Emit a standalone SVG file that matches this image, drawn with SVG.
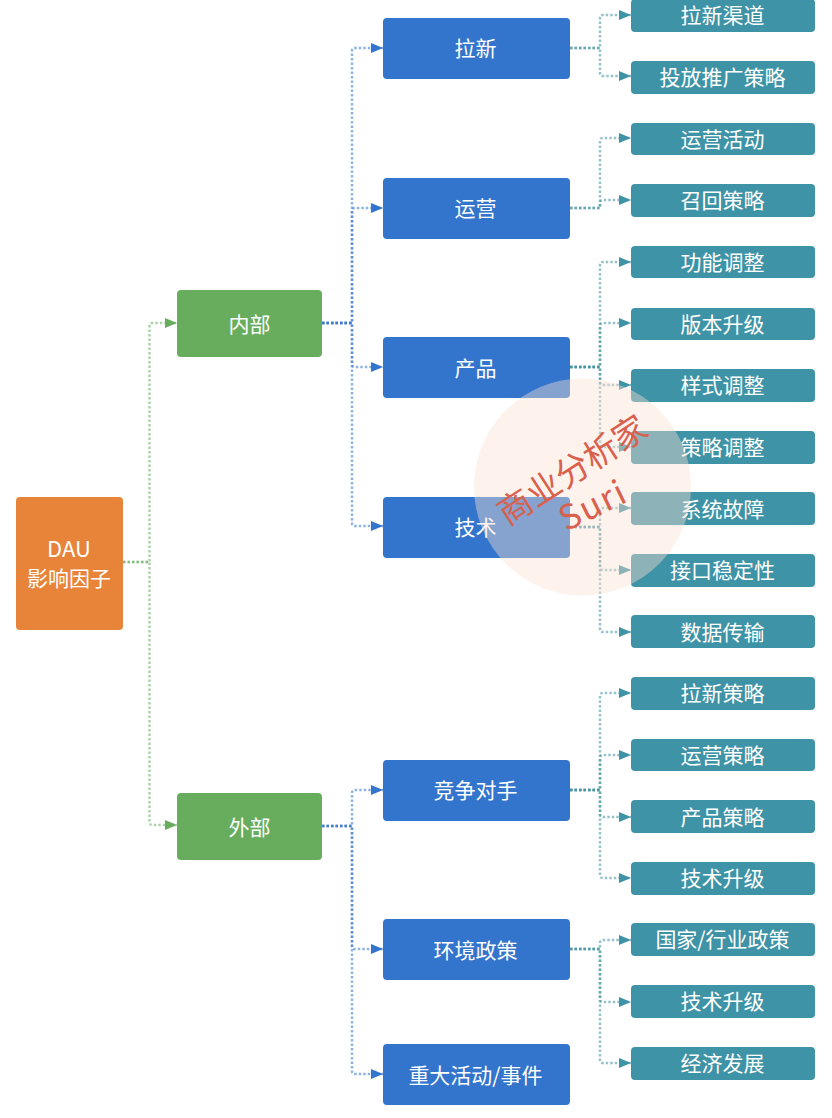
<svg xmlns="http://www.w3.org/2000/svg" width="832" height="1118" viewBox="0 0 832 1118">
<style>
text{font-family:"Noto Sans CJK SC","Noto Sans",sans-serif;font-size:21px;fill:#fff;text-anchor:middle;dominant-baseline:central}
.c{fill:none;stroke-width:2.500;stroke-dasharray:2.500 2;stroke-opacity:.55}
.g{stroke:#68AD5E}.b{stroke:#3375CC}.t{stroke:#3F8F9F}
.or{fill:#E8833A}.gr{fill:#68AD5E}.bl{fill:#3375CC}.te{fill:#3F93A6}
.wm{fill:#D9604C;font-size:34px}
</style>
<defs>
<marker id="ag" markerUnits="userSpaceOnUse" markerWidth="12" markerHeight="10" refX="12" refY="5" orient="auto"><path d="M0 0L12 5L0 10Z" fill="#68AD5E"/></marker>
<marker id="ab" markerUnits="userSpaceOnUse" markerWidth="12" markerHeight="10" refX="12" refY="5" orient="auto"><path d="M0 0L12 5L0 10Z" fill="#3375CC"/></marker>
<marker id="at" markerUnits="userSpaceOnUse" markerWidth="12" markerHeight="10" refX="12" refY="5" orient="auto"><path d="M0 0L12 5L0 10Z" fill="#3F93A6"/></marker>
</defs>
<rect width="832" height="1118" fill="#fff"/>
<g id="connectors">
<path class="c g" marker-end="url(#ag)" d="M123 562H149.500V326Q149.500 323 152.500 323H177"/>
<path class="c g" marker-end="url(#ag)" d="M123 562H149.500V822Q149.500 825 152.500 825H177"/>
<path class="c b" marker-end="url(#ab)" d="M322 323H352V51Q352 48 355 48H383"/>
<path class="c b" marker-end="url(#ab)" d="M322 323H352V211Q352 208 355 208H383"/>
<path class="c b" marker-end="url(#ab)" d="M322 323H352V364Q352 367 355 367H383"/>
<path class="c b" marker-end="url(#ab)" d="M322 323H352V523Q352 526 355 526H383"/>
<path class="c b" marker-end="url(#ab)" d="M322 826H352V793Q352 790 355 790H383"/>
<path class="c b" marker-end="url(#ab)" d="M322 826H352V946Q352 949 355 949H383"/>
<path class="c b" marker-end="url(#ab)" d="M322 826H352V1071Q352 1074 355 1074H383"/>
<path class="c t" marker-end="url(#at)" d="M570 48H600V18Q600 15 603 15H631"/>
<path class="c t" marker-end="url(#at)" d="M570 48H600V73Q600 76 603 76H631"/>
<path class="c t" marker-end="url(#at)" d="M570 208H600V141Q600 138 603 138H631"/>
<path class="c t" marker-end="url(#at)" d="M570 208H600V203Q600 200 603 200H631"/>
<path class="c t" marker-end="url(#at)" d="M570 367H600V265Q600 262 603 262H631"/>
<path class="c t" marker-end="url(#at)" d="M570 367H600V326Q600 323 603 323H631"/>
<path class="c t" marker-end="url(#at)" d="M570 367H600V382Q600 385 603 385H631"/>
<path class="c t" marker-end="url(#at)" d="M570 367H600V444Q600 447 603 447H631"/>
<path class="c t" marker-end="url(#at)" d="M570 527H600V511Q600 508 603 508H631"/>
<path class="c t" marker-end="url(#at)" d="M570 527H600V567Q600 570 603 570H631"/>
<path class="c t" marker-end="url(#at)" d="M570 527H600V629Q600 632 603 632H631"/>
<path class="c t" marker-end="url(#at)" d="M570 790H600V696Q600 693 603 693H631"/>
<path class="c t" marker-end="url(#at)" d="M570 790H600V758Q600 755 603 755H631"/>
<path class="c t" marker-end="url(#at)" d="M570 790H600V814Q600 817 603 817H631"/>
<path class="c t" marker-end="url(#at)" d="M570 790H600V875Q600 878 603 878H631"/>
<path class="c t" marker-end="url(#at)" d="M570 949H600V943Q600 940 603 940H631"/>
<path class="c t" marker-end="url(#at)" d="M570 949H600V999Q600 1002 603 1002H631"/>
<path class="c t" marker-end="url(#at)" d="M570 949H600V1060Q600 1063 603 1063H631"/>
</g>
<g id="n-dau"><rect class="or" x="16" y="497" width="107" height="133" rx="4"/><text x="69" y="547" style="font-size:22px">DAU</text><text x="69" y="577">影响因子</text></g>
<g id="n-internal"><rect class="gr" x="177" y="290" width="145" height="67" rx="4"/><text x="249.500" y="323">内部</text></g>
<g id="n-external"><rect class="gr" x="177" y="793" width="145" height="67" rx="4"/><text x="249.500" y="826">外部</text></g>
<g id="n-acq"><rect class="bl" x="383" y="18" width="187" height="61" rx="4"/><text x="475.500" y="47">拉新</text></g>
<g id="n-ops"><rect class="bl" x="383" y="178" width="187" height="61" rx="4"/><text x="475.500" y="207">运营</text></g>
<g id="n-prod"><rect class="bl" x="383" y="337" width="187" height="61" rx="4"/><text x="475.500" y="367">产品</text></g>
<g id="n-tech"><rect class="bl" x="383" y="497" width="187" height="61" rx="4"/><text x="475.500" y="526">技术</text></g>
<g id="n-comp"><rect class="bl" x="383" y="760" width="187" height="61" rx="4"/><text x="475.500" y="789">竞争对手</text></g>
<g id="n-env"><rect class="bl" x="383" y="919" width="187" height="61" rx="4"/><text x="475.500" y="949">环境政策</text></g>
<g id="n-event"><rect class="bl" x="383" y="1044" width="187" height="61" rx="4"/><text x="475.500" y="1074">重大活动/事件</text></g>
<g id="l1"><rect class="te" x="631" y="-1" width="184" height="33" rx="4"/><text x="722.500" y="14">拉新渠道</text></g>
<g id="l2"><rect class="te" x="631" y="61" width="184" height="33" rx="4"/><text x="722.500" y="76">投放推广策略</text></g>
<g id="l3"><rect class="te" x="631" y="123" width="184" height="32" rx="4"/><text x="722.500" y="138">运营活动</text></g>
<g id="l4"><rect class="te" x="631" y="184" width="184" height="33" rx="4"/><text x="722.500" y="199">召回策略</text></g>
<g id="l5"><rect class="te" x="631" y="246" width="184" height="32" rx="4"/><text x="722.500" y="261">功能调整</text></g>
<g id="l6"><rect class="te" x="631" y="308" width="184" height="32" rx="4"/><text x="722.500" y="323">版本升级</text></g>
<g id="l7"><rect class="te" x="631" y="369" width="184" height="33" rx="4"/><text x="722.500" y="384">样式调整</text></g>
<g id="l8"><rect class="te" x="631" y="431" width="184" height="33" rx="4"/><text x="722.500" y="446">策略调整</text></g>
<g id="l9"><rect class="te" x="631" y="492" width="184" height="33" rx="4"/><text x="722.500" y="508">系统故障</text></g>
<g id="l10"><rect class="te" x="631" y="554" width="184" height="33" rx="4"/><text x="722.500" y="569">接口稳定性</text></g>
<g id="l11"><rect class="te" x="631" y="615" width="184" height="33" rx="4"/><text x="722.500" y="631">数据传输</text></g>
<g id="l12"><rect class="te" x="631" y="677" width="184" height="33" rx="4"/><text x="722.500" y="692">拉新策略</text></g>
<g id="l13"><rect class="te" x="631" y="739" width="184" height="32" rx="4"/><text x="722.500" y="754">运营策略</text></g>
<g id="l14"><rect class="te" x="631" y="800" width="184" height="33" rx="4"/><text x="722.500" y="816">产品策略</text></g>
<g id="l15"><rect class="te" x="631" y="862" width="184" height="33" rx="4"/><text x="722.500" y="877">技术升级</text></g>
<g id="l16"><rect class="te" x="631" y="923" width="184" height="33" rx="4"/><text x="722.500" y="938">国家/行业政策</text></g>
<g id="l17"><rect class="te" x="631" y="985" width="184" height="33" rx="4"/><text x="722.500" y="1000">技术升级</text></g>
<g id="l18"><rect class="te" x="631" y="1047" width="184" height="33" rx="4"/><text x="722.500" y="1062">经济发展</text></g>
<g id="watermark">
<circle cx="582.500" cy="487" r="108.500" fill="#FBDFD2" fill-opacity=".42"/>
<text class="wm" transform="translate(571 468) rotate(-33)">商业分析家</text>
<text class="wm" style="letter-spacing:2px" transform="translate(592 503) rotate(-26)">Suri</text>
</g>
</svg>
